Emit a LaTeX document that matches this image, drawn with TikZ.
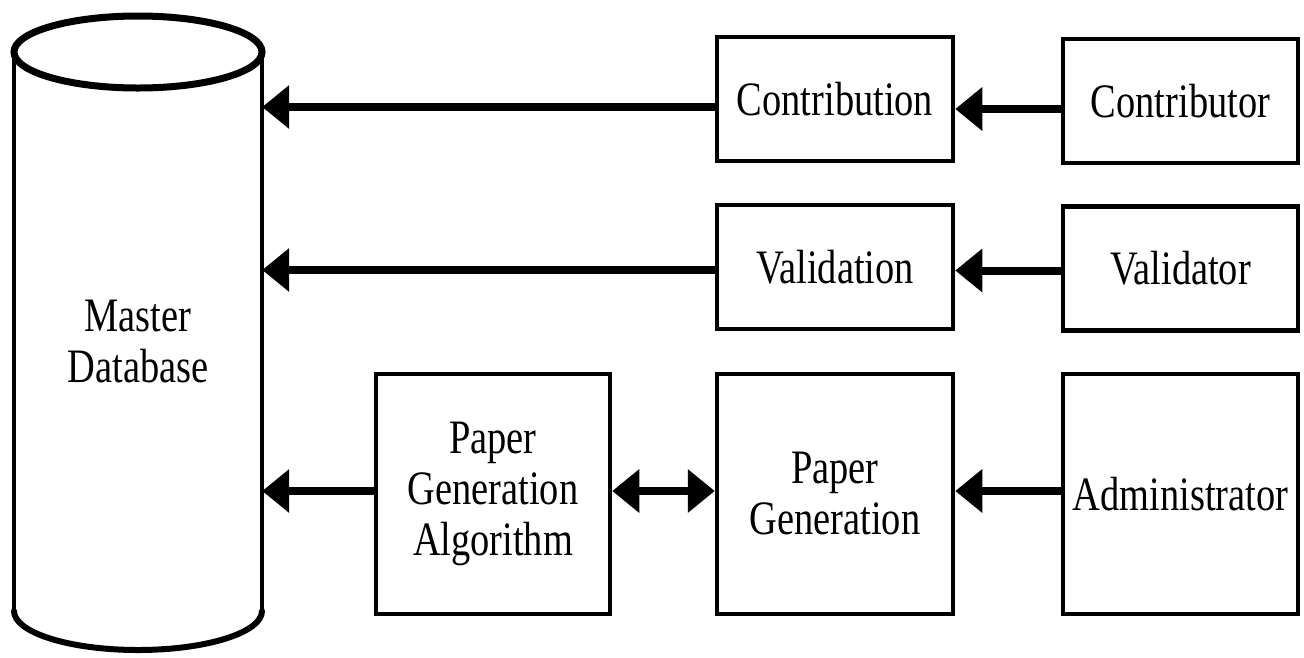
\documentclass[tikz,border=0pt]{standalone}
\usepackage{fontspec}
\setmainfont{Liberation Serif}[FakeStretch=0.8]
\usetikzlibrary{arrows.meta}
\begin{document}
\begin{tikzpicture}[x=1pt,y=-1pt,
  box/.style={draw, line width=4.5pt, minimum width=236pt, inner sep=0pt, align=center,
    font=\fontsize{48}{51}\selectfont},
  arr/.style={line width=8pt, -{Triangle[length=27pt,width=42pt]}},
  darr/.style={line width=8pt, {Triangle[length=27pt,width=42pt]}-{Triangle[length=27pt,width=42pt]}}]
\useasboundingbox (0,0) rectangle (1304,657);
\fill[white] (0,0) rectangle (1304,657);
% cylinder
\draw[line width=4pt] (14,52) -- (14,613);
\draw[line width=4pt] (262,52) -- (262,613);
\draw[line width=6pt, line cap=round] (14,611) arc[start angle=180, end angle=0, x radius=124, y radius=39];
\draw[line width=7pt] (138,52) ellipse[x radius=124, y radius=36];
\node[minimum width=248pt, minimum height=560pt, inner sep=0pt, align=center,
  font=\fontsize{48}{51}\selectfont] (db) at (138,342) {Master\\Database};
% boxes
\node[box, minimum height=124pt] (contrib) at (835,99) {Contribution};
\node[box, minimum height=124pt, minimum width=235pt] (contributor) at (1180.5,101) {Contributor};
\node[box, minimum height=124pt] (valid) at (835,267) {Validation};
\node[box, minimum height=124pt, minimum width=235pt] (validator) at (1180.5,268.5) {Validator};
\node[box, minimum height=240pt, minimum width=234pt] (pga) at (493,494) {Paper\\Generation\\Algorithm};
\node[box, minimum height=240pt] (pg) at (835,494) {Paper\\Generation};
\node[box, minimum height=240pt, minimum width=235pt] (admin) at (1180.5,494) {Administrator};
% arrows
\draw[arr] ([yshift=-8pt]contributor.west) coordinate (a1) -- (a1 -| contrib.east);
\draw[arr] ([yshift=-8pt]contrib.west) coordinate (a2) -- (a2 -| db.east);
\draw[arr] ([yshift=-2pt]validator.west) coordinate (a3) -- (a3 -| valid.east);
\draw[arr] ([yshift=-3pt]valid.west) coordinate (a4) -- (a4 -| db.east);
\draw[arr] ([yshift=3pt]admin.west) coordinate (a5) -- (a5 -| pg.east);
\draw[darr] ([yshift=3pt]pg.west) coordinate (a6) -- (a6 -| pga.east);
\draw[arr] ([yshift=3pt]pga.west) coordinate (a7) -- (a7 -| db.east);
\end{tikzpicture}
\end{document}
